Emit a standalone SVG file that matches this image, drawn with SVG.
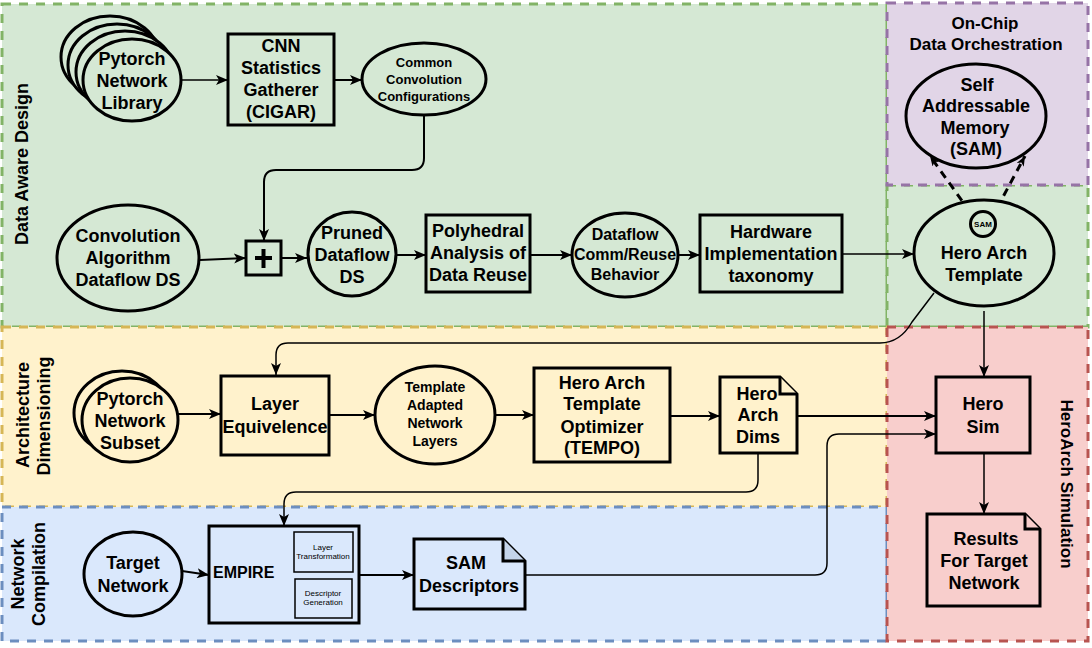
<svg xmlns="http://www.w3.org/2000/svg" width="1092" height="648" viewBox="0 0 1092 648">
<style>
.region{stroke-width:3;stroke-dasharray:9 8}
.node{stroke:#000;stroke-width:3}
.t{font-family:"Liberation Sans",Arial,sans-serif;font-weight:bold;font-size:18px;text-anchor:middle;fill:#000}
.s{font-size:16px}
.s14{font-size:14px}
.s13{font-size:13px}
.tiny{font-weight:normal;font-size:8px}
.conn{fill:none;stroke:#000;stroke-width:2}
.thin{stroke-width:1.5}
</style>
<defs>
<marker id="arr" viewBox="0 0 12 10" refX="12" refY="5" markerWidth="12" markerHeight="10" markerUnits="userSpaceOnUse" orient="auto">
<path d="M0,0 L12,5 L0,10 L3,5 Z" fill="#000"/>
</marker>
<marker id="arrs" viewBox="0 0 10 8" refX="10" refY="4" markerWidth="10" markerHeight="8" markerUnits="userSpaceOnUse" orient="auto">
<path d="M0,0 L10,4 L0,8 L2.5,4 Z" fill="#000"/>
</marker>
</defs>

<g id="regions">
<rect id="green" class="region" x="2" y="4" width="885" height="323" fill="#d5e8d4" stroke="#82b366"/>
<rect id="green2" class="region" x="887" y="185" width="201" height="142" fill="#d5e8d4" stroke="#82b366"/>
<rect id="yellow" class="region" x="2" y="327" width="885" height="180" fill="#fff2cc" stroke="#d6b656"/>
<rect id="blue" class="region" x="2" y="507" width="885" height="134" fill="#dae8fc" stroke="#6c8ebf"/>
<rect id="red" class="region" x="887" y="327" width="201" height="314" fill="#f8cecc" stroke="#b85450"/>
<rect id="purple" class="region" x="887" y="3" width="201" height="182" fill="#e1d5e7" stroke="#9673a6"/>
</g>

<g id="region-labels">
<text class="t" transform="translate(28,164) rotate(-90)">Data Aware Design</text>
<text class="t" transform="translate(29,415) rotate(-90)">Architecture</text>
<text class="t" transform="translate(50,416) rotate(-90)">Dimensioning</text>
<text class="t" transform="translate(24,574) rotate(-90)">Network</text>
<text class="t" transform="translate(45,574) rotate(-90)">Compilation</text>
<text class="t" style="font-size:17px" transform="translate(1061,484) rotate(90)">HeroArch Simulation</text>
<text class="t" style="font-size:17px" x="985" y="29">On-Chip</text>
<text class="t" style="font-size:17px" x="986" y="50">Data Orchestration</text>
</g>

<g id="connectors">
<line class="conn thin" x1="182" y1="80" x2="228" y2="80" marker-end="url(#arr)"/>
<line class="conn" x1="334" y1="80" x2="362" y2="80" marker-end="url(#arr)"/>
<path class="conn" d="M424 115 L424 158 Q424 170 412 170 L276 170 Q264 170 264 182 L264 241" marker-end="url(#arr)"/>
<line class="conn" x1="200" y1="260" x2="246" y2="258" marker-end="url(#arr)"/>
<line class="conn" x1="281" y1="258" x2="307" y2="258" marker-end="url(#arr)"/>
<line class="conn" x1="396" y1="255" x2="426" y2="255" marker-end="url(#arr)"/>
<line class="conn" x1="530" y1="255" x2="572" y2="255" marker-end="url(#arr)"/>
<line class="conn" x1="678" y1="255" x2="700" y2="255" marker-end="url(#arr)"/>
<line class="conn thin" x1="842" y1="254" x2="914" y2="254" marker-end="url(#arr)"/>
<path class="conn" style="stroke-width:3;stroke-dasharray:8 6" d="M970 212 L930 156" marker-end="url(#arrs)"/>
<path class="conn" style="stroke-width:3;stroke-dasharray:8 6" d="M997 208 L1025 156" marker-end="url(#arrs)"/>
<path class="conn thin" d="M934 293 L912 322 Q900 343 880 343 L288 343 Q276 343 276 355 L276 375" marker-end="url(#arr)"/>
<line class="conn thin" x1="984" y1="311" x2="984" y2="377" marker-end="url(#arr)"/>
<line class="conn" x1="178" y1="414" x2="221" y2="414" marker-end="url(#arr)"/>
<line class="conn" x1="329" y1="415" x2="375" y2="415" marker-end="url(#arr)"/>
<line class="conn" x1="495" y1="415" x2="534" y2="415" marker-end="url(#arr)"/>
<line class="conn" x1="670" y1="416" x2="720" y2="416" marker-end="url(#arr)"/>
<line class="conn" x1="797" y1="416" x2="936" y2="416" marker-end="url(#arr)"/>
<path class="conn thin" d="M758 453 L758 480 Q758 492 746 492 L296 492 Q284 492 284 504 L284 526" marker-end="url(#arr)"/>
<path class="conn thin" d="M526 575 L815 575 Q827 575 827 563 L827 446 Q827 434 839 434 L936 434" marker-end="url(#arr)"/>
<line class="conn thin" x1="984" y1="453" x2="984" y2="514" marker-end="url(#arr)"/>
<line class="conn" x1="182" y1="571" x2="209" y2="575" marker-end="url(#arr)"/>
<line class="conn" x1="359" y1="575" x2="414" y2="575" marker-end="url(#arr)"/>
</g>

<g id="pytorch-library">
<ellipse class="node" cx="110" cy="57" rx="49" ry="41" fill="#d5e8d4"/>
<ellipse class="node" cx="117" cy="65" rx="49" ry="41" fill="#d5e8d4"/>
<ellipse class="node" cx="125" cy="72" rx="49" ry="41" fill="#d5e8d4"/>
<ellipse class="node" cx="132" cy="80" rx="49" ry="41" fill="#d5e8d4"/>
<text class="t" x="132" y="65">Pytorch</text>
<text class="t" x="132" y="87">Network</text>
<text class="t" x="132" y="109">Library</text>
</g>

<g id="cigar">
<rect class="node" x="228" y="34" width="106" height="91" fill="#d5e8d4"/>
<text class="t" x="281" y="52">CNN</text>
<text class="t" x="281" y="74">Statistics</text>
<text class="t" x="281" y="96">Gatherer</text>
<text class="t" x="281" y="118">(CIGAR)</text>
</g>

<g id="common-conv">
<ellipse class="node" cx="424" cy="79" rx="62" ry="36" fill="#d5e8d4"/>
<text class="t s13" x="424" y="67">Common</text>
<text class="t s13" x="424" y="84">Convolution</text>
<text class="t s13" x="424" y="101">Configurations</text>
</g>

<g id="conv-alg">
<ellipse class="node" cx="128" cy="258" rx="71" ry="53" fill="#d5e8d4"/>
<text class="t" x="128" y="242">Convolution</text>
<text class="t" x="128" y="264">Algorithm</text>
<text class="t" x="128" y="286">Dataflow DS</text>
</g>

<g id="plus">
<rect class="node" x="246" y="241" width="35" height="34" fill="#d5e8d4"/>
<path d="M255 258 H272 M263.5 249 V268" stroke="#000" stroke-width="4" fill="none"/>
</g>

<g id="pruned">
<ellipse class="node" cx="352" cy="254" rx="44" ry="42" fill="#d5e8d4"/>
<text class="t" x="352" y="239">Pruned</text>
<text class="t" x="352" y="261">Dataflow</text>
<text class="t" x="352" y="283">DS</text>
</g>

<g id="polyhedral">
<rect class="node" x="426" y="215" width="104" height="77" fill="#d5e8d4"/>
<text class="t" x="478" y="237">Polyhedral</text>
<text class="t" x="478" y="259">Analysis of</text>
<text class="t" x="478" y="281">Data Reuse</text>
</g>

<g id="dataflow-behavior">
<ellipse class="node" cx="625" cy="255" rx="53" ry="42" fill="#d5e8d4"/>
<text class="t s" x="625" y="240">Dataflow</text>
<text class="t s" x="625" y="260">Comm/Reuse</text>
<text class="t s" x="625" y="280">Behavior</text>
</g>

<g id="hw-taxonomy">
<rect class="node" x="700" y="215" width="142" height="77" fill="#d5e8d4"/>
<text class="t" x="771" y="238">Hardware</text>
<text class="t" x="771" y="260">Implementation</text>
<text class="t" x="771" y="282">taxonomy</text>
</g>

<g id="sam-memory">
<ellipse class="node" cx="976" cy="116" rx="70" ry="52" fill="#e1d5e7"/>
<text class="t" x="977" y="91">Self</text>
<text class="t" x="976" y="112">Addressable</text>
<text class="t" x="975" y="134">Memory</text>
<text class="t" x="976" y="155">(SAM)</text>
</g>

<g id="hero-arch-template">
<ellipse class="node" cx="984" cy="253" rx="70" ry="53" fill="#d5e8d4"/>
<circle class="node" cx="983" cy="224" r="12.5" fill="#d5e8d4"/>
<text class="t" style="font-size:8px" x="983" y="227">SAM</text>
<text class="t" x="984" y="259">Hero Arch</text>
<text class="t" x="984" y="281">Template</text>
</g>

<g id="pytorch-subset">
<ellipse class="node" cx="122" cy="413" rx="48" ry="42" fill="#fff2cc"/>
<ellipse class="node" cx="130" cy="420" rx="48" ry="42" fill="#fff2cc"/>
<text class="t" x="130" y="405">Pytorch</text>
<text class="t" x="130" y="427">Network</text>
<text class="t" x="130" y="449">Subset</text>
</g>

<g id="layer-equivalence">
<rect class="node" x="221" y="376" width="108" height="79" fill="#fff2cc"/>
<text class="t" x="275" y="410">Layer</text>
<text class="t" x="275" y="433">Equivelence</text>
</g>

<g id="template-adapted">
<ellipse class="node" cx="435" cy="415" rx="60" ry="49" fill="#fff2cc"/>
<text class="t s14" x="435" y="392">Template</text>
<text class="t s14" x="435" y="410">Adapted</text>
<text class="t s14" x="435" y="428">Network</text>
<text class="t s14" x="435" y="446">Layers</text>
</g>

<g id="tempo">
<rect class="node" x="534" y="368" width="136" height="94" fill="#fff2cc"/>
<text class="t" x="602" y="389">Hero Arch</text>
<text class="t" x="602" y="410">Template</text>
<text class="t" x="602" y="433">Optimizer</text>
<text class="t" x="602" y="454">(TEMPO)</text>
</g>

<g id="hero-arch-dims">
<path class="node" d="M720 377 H780 L797 394 V453 H720 Z" fill="#fff2cc"/>
<path class="node" d="M780 377 V394 H797" fill="#fff2cc"/>
<text class="t" x="757" y="400">Hero</text>
<text class="t" x="758" y="421">Arch</text>
<text class="t" x="758" y="443">Dims</text>
</g>

<g id="hero-sim">
<rect class="node" x="936" y="377" width="94" height="76" fill="#f8cecc"/>
<text class="t" x="983" y="410">Hero</text>
<text class="t" x="983" y="433">Sim</text>
</g>

<g id="results">
<path class="node" d="M927 514 H1025 L1040 529 V606 H927 Z" fill="#f8cecc"/>
<path class="node" d="M1025 514 V529 H1040" fill="#f8cecc"/>
<text class="t" x="986" y="545">Results</text>
<text class="t" x="984" y="567">For Target</text>
<text class="t" x="984" y="589">Network</text>
</g>

<g id="target-network">
<ellipse class="node" cx="133" cy="574" rx="49" ry="42" fill="#dae8fc"/>
<text class="t" x="133" y="569">Target</text>
<text class="t" x="133" y="592">Network</text>
</g>

<g id="empire">
<rect class="node" x="209" y="526" width="150" height="97" fill="#dae8fc"/>
<text class="t s" style="text-anchor:start" x="213" y="578">EMPIRE</text>
<rect x="294" y="532" width="59" height="40" fill="#dae8fc" stroke="#000" stroke-width="1.5"/>
<text class="t tiny" x="323" y="550">Layer</text>
<text class="t tiny" x="323" y="559">Transformation</text>
<rect x="295" y="579" width="57" height="39" fill="#dae8fc" stroke="#000" stroke-width="1.5"/>
<text class="t tiny" x="323" y="596">Descriptor</text>
<text class="t tiny" x="323" y="605">Generation</text>
</g>

<g id="sam-descriptors">
<path class="node" d="M414 539 H503 L525 561 V609 H414 Z" fill="#dae8fc"/>
<path class="node" d="M503 539 V561 H525" fill="#c4d4ea"/>
<text class="t" x="466" y="569">SAM</text>
<text class="t" x="469" y="592">Descriptors</text>
</g>
</svg>
